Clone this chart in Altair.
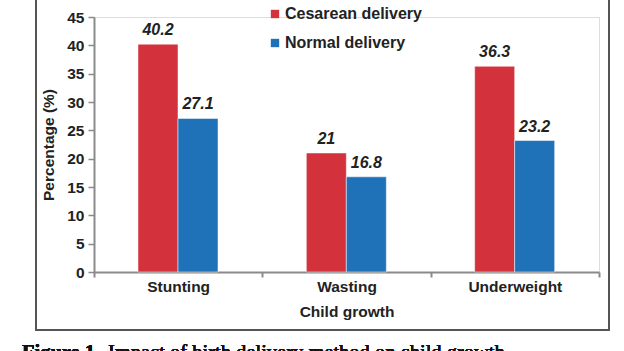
import altair as alt
import pandas as pd

categories = ["Stunting", "Wasting", "Underweight"]
cesarean = [40.2, 21, 36.3]
normal = [27.1, 16.8, 23.2]
series = ["Cesarean delivery", "Normal delivery"]
colors = ["#D3313B", "#1F71B8"]
y_ticks = [0, 5, 10, 15, 20, 25, 30, 35, 40, 45]

rows = []
for c, a, b in zip(categories, cesarean, normal):
    rows.append({"growth": c, "method": series[0], "value": a, "label": f"{a:g}"})
    rows.append({"growth": c, "method": series[1], "value": b, "label": f"{b:g}"})
df = pd.DataFrame(rows)

FONT = "Liberation Sans"
FS = 15.5
W, H = 505, 255

x = alt.X("growth:N", sort=categories, title="Child growth",
          scale=alt.Scale(paddingInner=0, paddingOuter=0),
          axis=alt.Axis(labelAngle=0, tickBand="extent", labelFont=FONT, labelFontSize=FS,
                        labelFontWeight="bold", labelColor="#222", labelPadding=2,
                        titleFont=FONT, titleFontSize=FS, titleFontWeight="bold",
                        titleColor="#222", titlePadding=10, domainColor="#8a8a8a",
                        domainWidth=2, tickColor="#8a8a8a", tickWidth=2, tickSize=5))
xo = alt.XOffset("method:N", sort=series,
                 scale=alt.Scale(paddingInner=0, paddingOuter=0, range=[44, 124]))
y = alt.Y("value:Q", title="Percentage (%)",
          scale=alt.Scale(domain=[0, 45], nice=False, zero=True),
          axis=alt.Axis(values=y_ticks, grid=False, labelOverlap=False,
                        labelFont=FONT, labelFontSize=FS, labelFontWeight="bold",
                        labelColor="#222", labelPadding=4, titleFont=FONT, titleFontSize=FS,
                        titleFontWeight="bold", titleColor="#222", titlePadding=10,
                        domainColor="#8a8a8a", domainWidth=2, tickColor="#8a8a8a",
                        tickWidth=1.5, tickSize=6))

color = alt.Color("method:N", sort=series,
                  scale=alt.Scale(domain=series, range=colors),
                  legend=alt.Legend(title=None, orient="none", legendX=173, legendY=-11,
                                    symbolType="square", symbolSize=70, symbolStrokeWidth=0,
                                    labelFont=FONT, labelFontSize=16, labelFontWeight="bold",
                                    labelColor="#222", rowPadding=13, labelOffset=2))

bars = alt.Chart(df).mark_bar(stroke="white", strokeWidth=0.5).encode(
    x=x, xOffset=xo, y=y, color=color)

labels = alt.Chart(df).mark_text(dy=-14, font=FONT, fontSize=16, fontWeight="bold",
                                 fontStyle="italic", color="#222").encode(
    x=x, xOffset=xo, y=y, text="label:N")

frame = alt.Chart(df).mark_rect(filled=False, stroke="#555", strokeWidth=1.5).encode(
    x=alt.value(-58), x2=alt.value(515), y=alt.value(-40), y2=alt.value(313))

cap1 = alt.Chart(df).mark_text(align="left", baseline="alphabetic", font="Liberation Serif",
                               fontSize=20.5, fontWeight="bold", color="#111").encode(
    x=alt.value(-72), y=alt.value(342), text=alt.value("Figure 1."))
cap2 = alt.Chart(df).mark_text(align="left", baseline="alphabetic", font="Liberation Serif",
                               fontSize=20.5, color="#111").encode(
    x=alt.value(14), y=alt.value(342),
    text=alt.value("Impact of birth delivery method on child growth"))

chart = alt.layer(frame, bars, labels, cap1, cap2).properties(
    width=W, height=H,
    autosize=alt.AutoSizeParams(type="none"),
    padding={"left": 94, "top": 17, "right": 25, "bottom": 79},
).configure_view(stroke=None).configure(background="white")

chart.save("out.html", embed_options={"renderer": "svg", "actions": False})
